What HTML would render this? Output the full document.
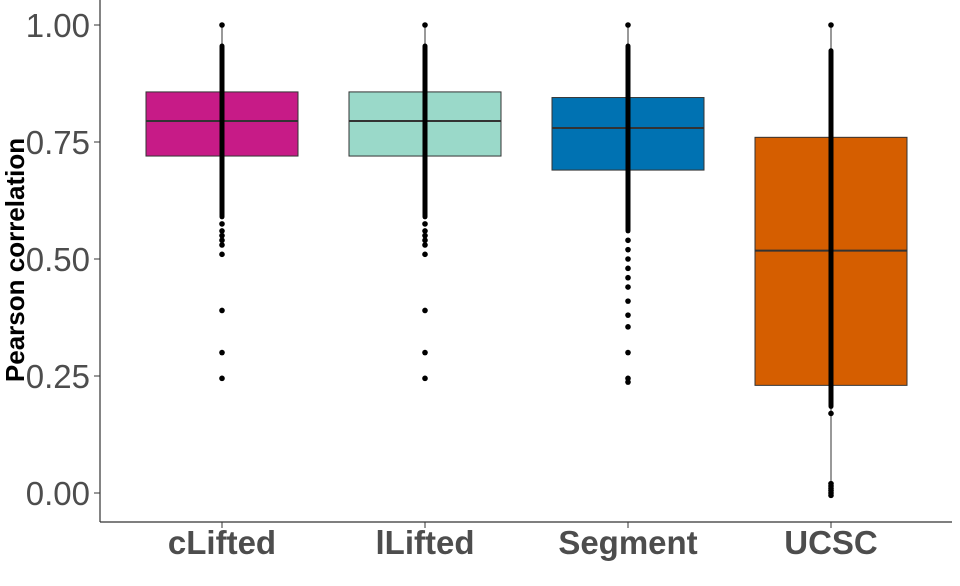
<!DOCTYPE html>
<html><head><meta charset="utf-8"><style>
body{margin:0;background:#fff}
svg{display:block;font-family:"Liberation Sans",sans-serif}
</style></head><body>
<svg id="chart" width="960" height="586">
<g id="plot"></g>
<line x1="100" y1="0" x2="100" y2="522" stroke="#333" stroke-width="1.2"/>
<line x1="100" y1="522" x2="952" y2="522" stroke="#333" stroke-width="1.2"/>
<text transform="translate(24,260) rotate(-90)" text-anchor="middle" font-size="26" font-weight="bold" fill="#000">Pearson correlation</text>
</svg>
<script>
const categories=["cLifted","lLifted","Segment","UCSC"];
const colors=["#C71B87","#9AD9C9","#0072B2","#D55E00"];
const q1=[0.72,0.72,0.69,0.23];
const medians=[0.795,0.795,0.78,0.518];
const q3=[0.857,0.857,0.845,0.76];
const whiskerLow=[0.59,0.59,0.57,0.0];
const whiskerHigh=[1.0,1.0,1.0,1.0];
const denseLow=[0.59,0.59,0.56,0.185];
const denseHigh=[0.955,0.955,0.955,0.945];
const pointsCL=[1.0,0.575,0.56,0.55,0.54,0.53,0.51,0.39,0.30,0.245];
const pointsLL=[1.0,0.575,0.56,0.55,0.54,0.53,0.51,0.39,0.30,0.245];
const pointsSeg=[1.0,0.54,0.52,0.50,0.48,0.46,0.44,0.41,0.38,0.355,0.30,0.245,0.237];
const pointsUCSC=[1.0,0.17,0.02,0.015,0.01,0.005,0.0,-0.005];
const pointSets=[pointsCL,pointsLL,pointsSeg,pointsUCSC];
const yTicks=[0,0.25,0.5,0.75,1.0];
const yTickLabels=["0.00","0.25","0.50","0.75","1.00"];
const NS="http://www.w3.org/2000/svg";
const svg=document.getElementById('chart');
const plot=document.getElementById('plot');
const y=v=>493-v*468;
const x=i=>222+i*203;
const bw=152;
function mk(t,a,parent){const e=document.createElementNS(NS,t);for(const k in a)e.setAttribute(k,a[k]);(parent||plot).appendChild(e);return e;}
yTicks.forEach((v,i)=>{
 const t=mk('line',{x1:94,x2:100,y1:y(v),y2:y(v),stroke:'#333'},svg);
 
 
 const l=mk('text',{x:90,y:y(v)+12,'text-anchor':'end','font-size':33,fill:'#4d4d4d'},svg);
 l.textContent=yTickLabels[i];
 
 
});
categories.forEach((c,i)=>{
 const cx=x(i);
 const w=mk('line',{x1:cx,x2:cx,y1:y(whiskerHigh[i]),y2:y(whiskerLow[i]),stroke:'#333','stroke-width':1});
 
 
 const b=mk('rect',{x:cx-bw/2,y:y(q3[i]),width:bw,height:y(q1[i])-y(q3[i]),fill:colors[i],stroke:'#333','stroke-width':1});
 
 
 const m=mk('line',{x1:cx-bw/2,x2:cx+bw/2,y1:y(medians[i]),y2:y(medians[i]),stroke:'#333','stroke-width':2});
 
 
 const d=mk('rect',{x:cx-2.5,y:y(denseHigh[i])-2.5,width:5,height:y(denseLow[i])-y(denseHigh[i])+5,rx:2.5,fill:'#000'});
 
 
 pointSets[i].forEach(v=>{
  const p=mk('circle',{cx:cx,cy:y(v),r:2.8,fill:'#000'});
  
  
 });
 const t=mk('line',{x1:cx,x2:cx,y1:522,y2:528,stroke:'#333'},svg);
 
 
 const l=mk('text',{x:cx,y:554,'text-anchor':'middle','font-size':33,'font-weight':'bold',fill:'#4d4d4d'},svg);
 l.textContent=c;
 
 
});
</script>
</body></html>
